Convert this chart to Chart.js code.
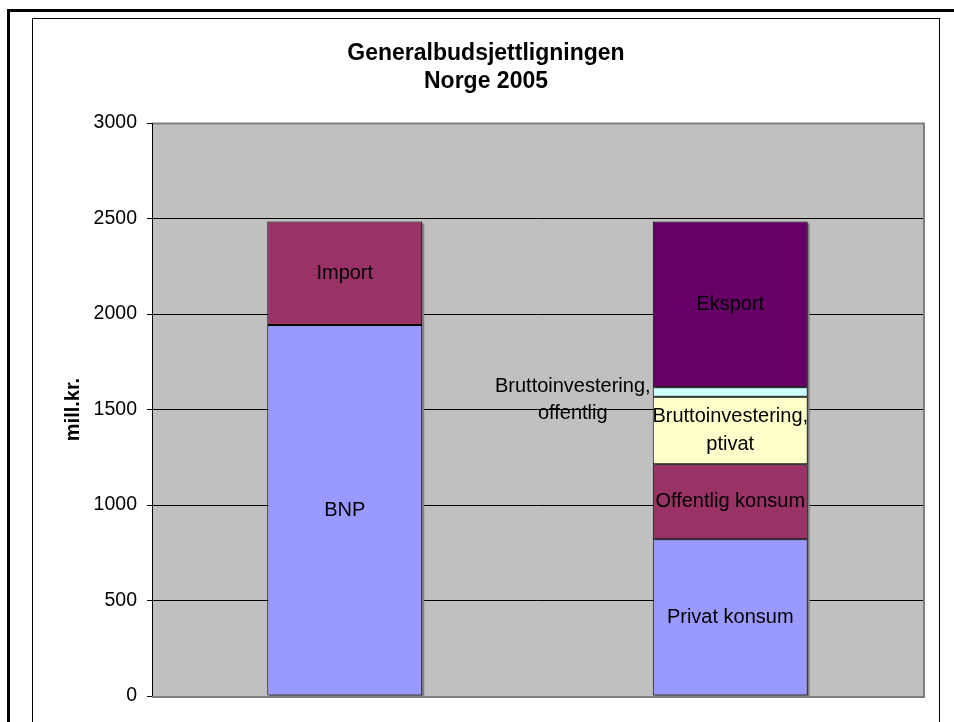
<!DOCTYPE html>
<html>
<head>
<meta charset="utf-8">
<script src="https://cdn.jsdelivr.net/npm/chart.js@4.4.1/dist/chart.umd.min.js"></script>
<style>
  html, body { margin: 0; padding: 0; background: #fff; }
  #wrap { position: relative; width: 954px; height: 722px; }
</style>
</head>
<body>
<div id="wrap"><canvas id="ChartBudsjett"></canvas></div>
<script>
// data
const categories = ['', ''];
const bnpPrivatKonsum = [1942, 821];
const importOffentligKonsum = [543, 393];
const bruttoinvPrivat = [null, 353];
const bruttoinvOffentlig = [null, 50];
const eksport = [null, 868];

const labelsSerie1 = ['BNP', 'Privat konsum'];
const labelsSerie2 = ['Import', 'Offentlig konsum'];
const labelsSerie3 = [null, 'Bruttoinvestering,\nptivat'];
const labelsSerie4 = [null, 'Bruttoinvestering,\noffentlig'];
const labelsSerie5 = [null, 'Eksport'];

const yTicks = [0, 500, 1000, 1500, 2000, 2500, 3000];

const FONT = "'Liberation Sans', Arial, sans-serif";

const canvas = document.getElementById('ChartBudsjett');
const ctx = canvas.getContext('2d');

// frames + grey plot area
const bakgrunn = {
    id: 'bakgrunn',
    beforeDraw(chart) {
        const c = chart.ctx;
        const a = chart.chartArea;
        c.save();
        c.fillStyle = '#fff';
        c.fillRect(0, 0, chart.width, chart.height);
        c.strokeStyle = '#000';
        c.lineWidth = 3;
        c.strokeRect(8.5, 10.5, 2000, 2000);
        c.lineWidth = 1;
        c.strokeRect(32.5, 18.5, 907, 2000);
        c.fillStyle = '#C0C0C0';
        c.fillRect(a.left, a.top, a.right - a.left, a.bottom - a.top);
        c.restore();
    },
    beforeDatasetsDraw(chart) {
        // little shadow behind the bars
        const c = chart.ctx;
        c.save();
        c.fillStyle = '#808080';
        chart.data.datasets.forEach((ds, i) => {
            chart.getDatasetMeta(i).data.forEach((el, j) => {
                if (ds.data[j] == null) return;
                const p = el.getProps(['x', 'y', 'base', 'width'], true);
                c.fillRect(p.x - p.width / 2 + 2, Math.min(p.y, p.base) + 2, p.width, Math.abs(p.base - p.y));
            });
        });
        c.restore();
    },
    afterDraw(chart) {
        const c = chart.ctx;
        const a = chart.chartArea;
        c.save();
        c.strokeStyle = '#808080';
        c.lineWidth = 2;
        c.beginPath();
        c.moveTo(a.left, a.top + 0.5);
        c.lineTo(a.right + 1, a.top + 0.5);
        c.lineTo(a.right + 1, a.bottom + 1);
        c.lineTo(a.left, a.bottom + 1);
        c.stroke();
        c.strokeStyle = '#000';
        c.lineWidth = 1;
        c.beginPath();
        c.moveTo(a.left + 0.5, a.top);
        c.lineTo(a.left + 0.5, a.bottom);
        c.stroke();
        c.restore();
    }
};

// text in the segments
const etiketter = {
    id: 'etiketter',
    afterDatasetsDraw(chart) {
        const c = chart.ctx;
        c.save();
        c.font = '20px ' + FONT;
        c.fillStyle = '#000';
        c.textAlign = 'center';
        c.textBaseline = 'middle';
        chart.data.datasets.forEach((ds, i) => {
            chart.getDatasetMeta(i).data.forEach((el, j) => {
                const txt = ds.segLabels[j];
                if (!txt || ds.data[j] == null) return;
                const p = el.getProps(['x', 'y', 'base', 'width'], true);
                const lines = txt.split('\n');
                let x = p.x;
                let y = (p.y + p.base) / 2;
                if (ds.labelOutside) {
                    x = p.x - p.width / 2 - 80;
                    y = y + 8;
                }
                const lh = 27.5;
                lines.forEach((l, k) => {
                    c.fillText(l, x, y + (k - (lines.length - 1) / 2) * lh);
                });
            });
        });
        c.restore();
    }
};

const lagSerie = (label, data, color, segLabels, extra) => Object.assign({
    label: label,
    data: data,
    backgroundColor: color,
    borderColor: '#000',
    borderWidth: 1,
    borderSkipped: false,
    segLabels: segLabels,
    categoryPercentage: 1,
    barPercentage: 0.402
}, extra || {});

const chartBudsjett = new Chart(ctx, {
    type: 'bar',
    data: {
        labels: categories,
        datasets: [
            lagSerie('Serie1', bnpPrivatKonsum, '#9999FF', labelsSerie1),
            lagSerie('Serie2', importOffentligKonsum, '#993366', labelsSerie2),
            lagSerie('Serie3', bruttoinvPrivat, '#FFFFCC', labelsSerie3),
            lagSerie('Serie4', bruttoinvOffentlig, '#CCFFFF', labelsSerie4, { labelOutside: true }),
            lagSerie('Serie5', eksport, '#660066', labelsSerie5)
        ]
    },
    options: {
        responsive: true,
        maintainAspectRatio: false,
        animation: false,
        layout: { padding: { left: 49, right: 31, top: 0, bottom: 26 } },
        plugins: {
            legend: { display: false },
            tooltip: { enabled: false },
            title: {
                display: true,
                text: ['Generalbudsjettligningen', 'Norge 2005'],
                color: '#000',
                font: { family: FONT, size: 23, weight: 'bold', lineHeight: 1.24 },
                padding: { top: 39, bottom: 27 }
            }
        },
        scales: {
            x: {
                stacked: true,
                grid: { display: false, drawTicks: false },
                border: { display: false },
                ticks: { display: false },
                afterFit(scale) { scale.height = 0; }
            },
            y: {
                stacked: true,
                min: 0,
                max: 3000,
                afterBuildTicks(scale) { scale.ticks = yTicks.map(v => ({ value: v })); },
                afterFit(scale) { scale.width = 103; },
                ticks: {
                    color: '#000',
                    padding: 10,
                    font: { family: FONT, size: 19.5 },
                    callback: v => String(v)
                },
                grid: {
                    color: c => (c.tick && (c.tick.value === 0 || c.tick.value === 3000)) ? 'rgba(0,0,0,0)' : '#000',
                    tickColor: '#000',
                    tickLength: 5,
                    lineWidth: 1
                },
                border: { display: false },
                title: {
                    display: true,
                    text: 'mill.kr.',
                    color: '#000',
                    font: { family: FONT, size: 20, weight: 'bold' },
                    padding: { top: 12, bottom: 0 }
                }
            }
        }
    },
    plugins: [bakgrunn, etiketter]
});
</script>
</body>
</html>
